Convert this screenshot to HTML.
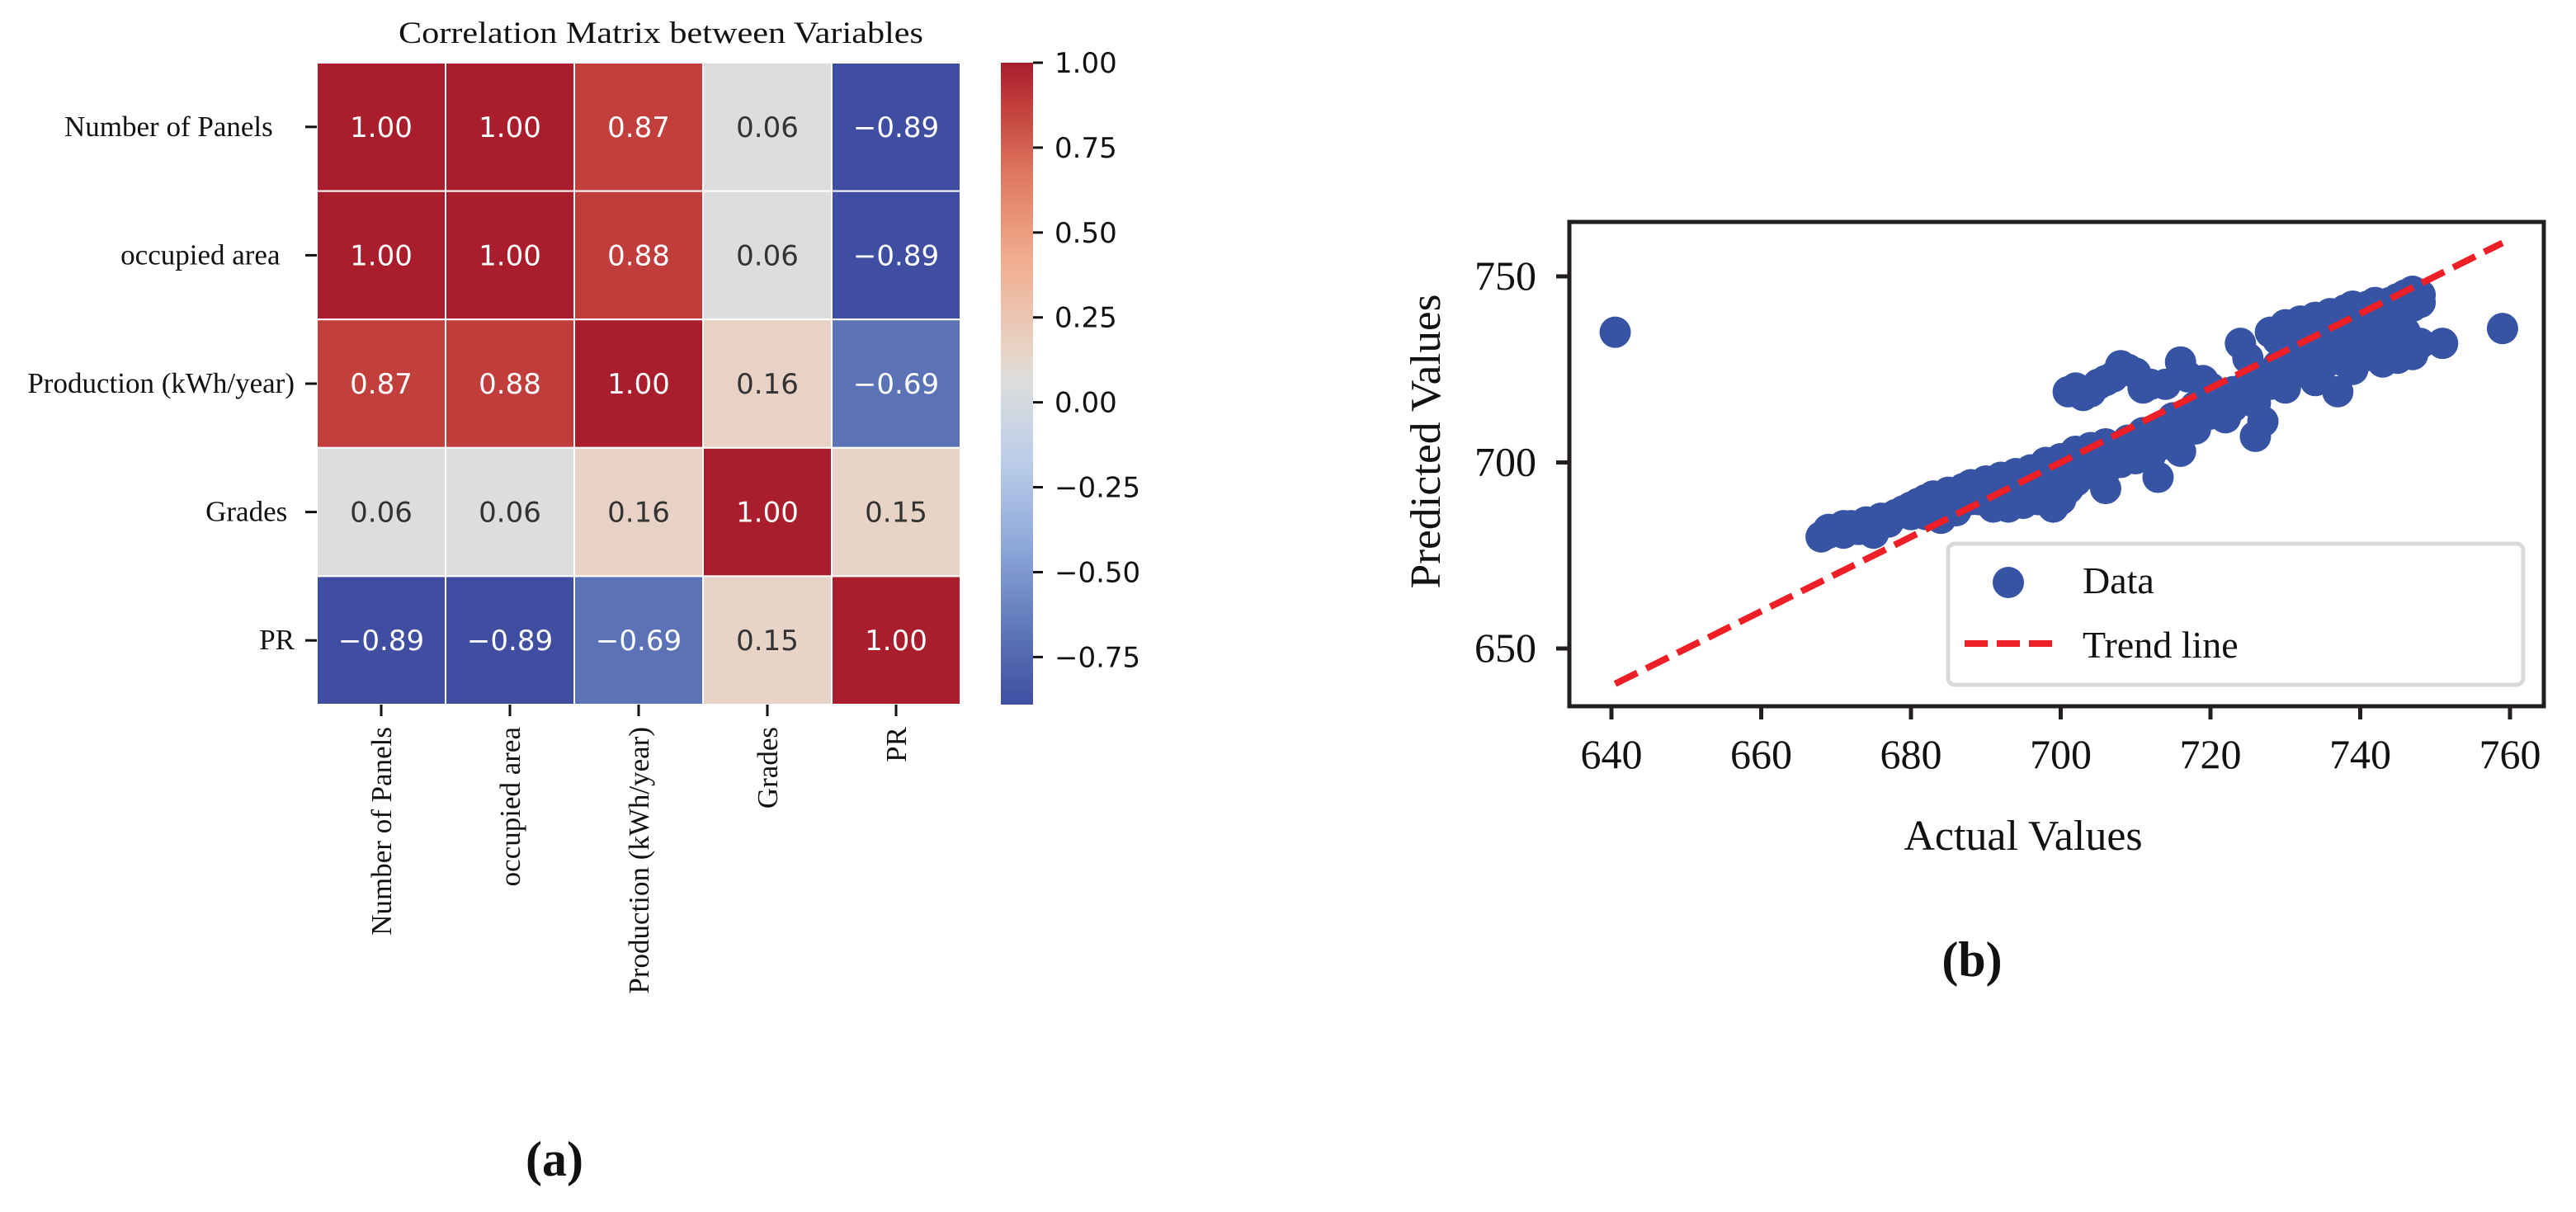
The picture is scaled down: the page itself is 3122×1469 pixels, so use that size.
<!DOCTYPE html>
<html><head><meta charset="utf-8"><style>
html,body{margin:0;padding:0;background:#fff;}
svg{display:block;}
.serif{font-family:"Liberation Serif",serif;fill:#111;}
.sans{font-family:"DejaVu Sans","Liberation Sans",sans-serif;}
</style></head><body>
<svg id="fig" width="3122" height="1469" viewBox="0 0 3122 1469" xmlns="http://www.w3.org/2000/svg">
<defs>
<linearGradient id="cbgrad" x1="0" y1="1" x2="0" y2="0">
<stop offset="0" stop-color="#3f4ea1"/>
<stop offset="0.106" stop-color="#5b73b6"/>
<stop offset="0.25" stop-color="#8ea9da"/>
<stop offset="0.38" stop-color="#bccde9"/>
<stop offset="0.503" stop-color="#dcdddc"/>
<stop offset="0.55" stop-color="#e8d4c7"/>
<stop offset="0.7" stop-color="#f1aa8c"/>
<stop offset="0.82" stop-color="#e07b62"/>
<stop offset="0.93" stop-color="#c2403c"/>
<stop offset="1" stop-color="#a91d2d"/>
</linearGradient>
</defs>
<g id="heat"></g>
<g id="scatter"></g>
</svg>
<script>
// ---- heatmap data ----
const hmLabels = ["Number of Panels", "occupied area", "Production (kWh/year)", "Grades", "PR"];
const hmRowLabels = ["Number of Panels\u00a0\u00a0\u00a0", "occupied area\u00a0\u00a0", "Production (kWh/year)", "Grades\u00a0", "PR"];
const hmRow0 = [1.00, 1.00, 0.87, 0.06, -0.89];
const hmRow1 = [1.00, 1.00, 0.88, 0.06, -0.89];
const hmRow2 = [0.87, 0.88, 1.00, 0.16, -0.69];
const hmRow3 = [0.06, 0.06, 0.16, 1.00, 0.15];
const hmRow4 = [-0.89, -0.89, -0.69, 0.15, 1.00];
const cbTicks = [1.00, 0.75, 0.50, 0.25, 0.00, -0.25, -0.50, -0.75];
const cbMin = -0.89, cbMax = 1.00;

// ---- scatter data ----
const actualVals = [640.5,668,669,670,671,672,673,674,675,676,677,678,679,680,681,682,683,684,685,686,687,688,690,692,694,696,698,700,702,704,706,675,682,684,686,688,
691,692,693,694,695,696,697,698,699,700,701,699,702,704,705,706,708,710,712,713,716,
701,702,703,704,705,706,707,708,709,710,711,712,714,716,717,719,720,722,
718,720,722,724,725,726,727,728,729,730,731,732,733,734,735,736,737,738,739,740,741,742,743,744,745,746,747,748,
708,710,712,714,715,716,718,719,721,723,724,725,726,727,728,729,730,731,732,733,734,735,736,737,738,737,734,739,740,741,742,743,744,745,746,747,748,740,742,744,746,748,751,759,
669,671,674,677,680,683,686,689,691,693,695,697,699,701,703,705,707,709,711,713,715,717,719,721,723,725,727,729,731,733,735,737,739,741,743,745,747,
690,694,698,702,706,710,714,718,722,726,730,734,738,742,746,712,716,720,724,728,732,736,740,744];
const predictedVals = [735,680,681,682,681,683,682,684,683,685,684,686,687,688,689,690,691,690,692,691,693,694,695,696,697,698,700,701,703,704,705,681,686,685,687,690,
688,689,688,690,689,691,690,692,691,690,693,688,695,697,698,693,700,701,702,696,703,
719,720,718,719,721,722,723,726,725,724,720,721,721,727,723,722,720,718,
715,713,716,732,728,707,711,735,733,737,736,738,737,739,738,740,739,741,742,741,742,743,742,743,744,745,746,745,
703,706,708,710,712,711,713,716,717,715,719,718,720,722,721,724,723,725,726,724,727,726,729,728,730,719,722,725,728,731,733,727,729,728,730,729,732,735,737,739,741,743,732,736,
682,683,683,685,686,688,689,690,693,694,695,696,697,699,700,702,704,706,708,709,711,713,715,717,719,721,723,726,728,730,732,734,736,737,739,741,742,
691,692,694,696,698,703,705,709,712,716,720,725,727,731,735,707,709,714,718,722,726,730,733,736];
const trendX = [640.5, 759];
const trendY = [640.5, 759];
const xTicks = [640, 660, 680, 700, 720, 740, 760];
const yTicks = [650, 700, 750];

const NS = "http://www.w3.org/2000/svg";
function mk(tag, attrs, parent, text){
  const e = document.createElementNS(NS, tag);
  for (const k in attrs) e.setAttribute(k, attrs[k]);
  if (text !== undefined) e.textContent = text;
  parent.appendChild(e);
  return e;
}
function hex(h){return [parseInt(h.slice(1,3),16),parseInt(h.slice(3,5),16),parseInt(h.slice(5,7),16)];}
const cmapStops = [[0,"#3f4ea1"],[0.106,"#5b73b6"],[0.25,"#8ea9da"],[0.38,"#bccde9"],[0.503,"#dcdddc"],[0.55,"#e8d4c7"],[0.7,"#f1aa8c"],[0.82,"#e07b62"],[0.93,"#c2403c"],[1,"#a91d2d"]];
function cmap(v){
  let t = (v - cbMin) / (cbMax - cbMin); t = Math.max(0, Math.min(1, t));
  for (let i = 0; i < cmapStops.length - 1; i++){
    const [t0,c0] = cmapStops[i], [t1,c1] = cmapStops[i+1];
    if (t <= t1){
      const f = (t - t0) / (t1 - t0), a = hex(c0), b = hex(c1);
      return "rgb(" + a.map((x,j)=>Math.round(x + (b[j]-x)*f)).join(",") + ")";
    }
  }
  return cmapStops[cmapStops.length-1][1];
}

// ===== Heatmap =====
const heat = document.getElementById('heat');
const hmRows = [hmRow0, hmRow1, hmRow2, hmRow3, hmRow4];
const hmX0 = 384, hmY0 = 76, hmW = 780, hmH = 778;
const n = hmLabels.length;
const cw = hmW / n, ch = hmH / n;
function hmX(i){return hmX0 + i*cw;}
function hmY(i){return hmY0 + i*ch;}

const title = mk('text', {x: 801, y: 52, 'text-anchor':'middle', 'font-size': 37, class:'serif', textLength: 636, lengthAdjust:'spacingAndGlyphs'}, heat, "Correlation Matrix between Variables");



for (let r = 0; r < n; r++){
  for (let c = 0; c < n; c++){
    const v = hmRows[r][c];
    const cell = mk('rect', {x: hmX(c), y: hmY(r), width: cw, height: ch, fill: cmap(v), stroke:'#ffffff', 'stroke-width': 2}, heat);
    
    
    const light = Math.abs(v) < 0.5;
    const txt = mk('text', {x: hmX(c)+cw/2, y: hmY(r)+ch/2+12, 'text-anchor':'middle', 'font-size': 34, class:'sans', fill: light ? '#333333' : '#ffffff'}, heat, v.toFixed(2).replace('-', '\u2212'));
    
    
  }
}
for (let i = 0; i < n; i++){
  const yc = hmY(i) + ch/2;
  const t1 = mk('line', {x1: 370, x2: hmX0, y1: yc, y2: yc, stroke:'#111', 'stroke-width': 3}, heat);
  
  
  const rl = mk('text', {x: 357, y: yc+11, 'text-anchor':'end', 'font-size': 35, class:'serif'}, heat, hmRowLabels[i]);
  
  
  const xc = hmX(i) + cw/2;
  const t2 = mk('line', {x1: xc, x2: xc, y1: hmY0+hmH, y2: hmY0+hmH+14, stroke:'#111', 'stroke-width': 3}, heat);
  
  
  const cl = mk('text', {x: 0, y: 0, 'text-anchor':'end', 'font-size': 35, class:'serif', transform: 'translate(' + (xc+12) + ',' + 881 + ') rotate(-90)'}, heat, hmLabels[i]);
  
  
}
const cbX = 1213, cbW = 39, cbY0 = 76, cbH = 778;
function cbY(v){return cbY0 + (cbMax - v) / (cbMax - cbMin) * cbH;}
const cb = mk('rect', {x: cbX, y: cbY0, width: cbW, height: cbH, fill: 'url(#cbgrad)'}, heat);


cbTicks.forEach(v => {
  const y = cbY(v);
  const tk = mk('line', {x1: cbX+cbW, x2: cbX+cbW+12, y1: y, y2: y, stroke:'#111', 'stroke-width': 3}, heat);
  
  
  const lb = mk('text', {x: 1278, y: y+12, 'font-size': 34, class:'sans', fill:'#111'}, heat, v.toFixed(2).replace('-', '\u2212'));
  
  
});
const capA = mk('text', {x: 672, y: 1425, 'text-anchor':'middle', 'font-size': 60, 'font-weight':'bold', class:'serif'}, heat, "(a)");



// ===== Scatter =====
const sc = document.getElementById('scatter');
const axL = 1902, axR = 3083, axT = 269, axB = 856;
function sx(v){return 1953 + (v - 640) * 9.075;}
function sy(v){return 335 + (750 - v) * 4.51;}

const pts = mk('g', {}, sc);


for (let i = 0; i < actualVals.length; i++){
  const c = mk('circle', {cx: sx(actualVals[i]), cy: sy(predictedVals[i]), r: 19, fill:'#3653a4'}, pts);
  
  
}
const tl = mk('line', {x1: sx(trendX[0]), y1: sy(trendY[0]), x2: sx(trendX[1]), y2: sy(trendY[1]), stroke:'#ee1f26', 'stroke-width': 8, 'stroke-dasharray':'30 12'}, sc);



const lg = mk('g', {}, sc);


const lgBox = mk('rect', {x: 2361, y: 659, width: 697, height: 171, rx: 8, fill:'#fff', stroke:'#d9d9da', 'stroke-width': 5}, lg);


const lm = mk('circle', {cx: 2434, cy: 706, r: 19, fill:'#3653a4'}, lg);


const lt1 = mk('text', {x: 2524, y: 719, 'font-size': 46, class:'serif'}, lg, "Data");


const ll = mk('line', {x1: 2381, x2: 2488, y1: 780, y2: 780, stroke:'#ee1f26', 'stroke-width': 8, 'stroke-dasharray':'28 11'}, lg);


const lt2 = mk('text', {x: 2524, y: 797, 'font-size': 46, class:'serif'}, lg, "Trend line");



const frame = mk('rect', {x: axL, y: axT, width: axR-axL, height: axB-axT, fill:'none', stroke:'#231f20', 'stroke-width': 5}, sc);


xTicks.forEach(v => {
  const x = sx(v);
  const tk = mk('line', {x1: x, x2: x, y1: axB, y2: axB+16, stroke:'#231f20', 'stroke-width': 5}, sc);
  
  
  const lb = mk('text', {x: x, y: 931, 'text-anchor':'middle', 'font-size': 50, class:'serif'}, sc, String(v));
  
  
});
yTicks.forEach(v => {
  const y = sy(v);
  const tk = mk('line', {x1: axL-16, x2: axL, y1: y, y2: y, stroke:'#231f20', 'stroke-width': 5}, sc);
  
  
  const lb = mk('text', {x: 1862, y: y+16, 'text-anchor':'end', 'font-size': 50, class:'serif'}, sc, String(v));
  
  
});
const xt = mk('text', {x: 2452, y: 1030, 'text-anchor':'middle', 'font-size': 52, class:'serif'}, sc, "Actual Values");


const yt = mk('text', {x: 0, y: 0, 'text-anchor':'middle', 'font-size': 52, class:'serif', textLength: 357, lengthAdjust:'spacingAndGlyphs', transform:'translate(1745,535) rotate(-90)'}, sc, "Predicted Values");


const capB = mk('text', {x: 2390, y: 1183, 'text-anchor':'middle', 'font-size': 60, 'font-weight':'bold', class:'serif'}, sc, "(b)");


</script>
</body></html>
